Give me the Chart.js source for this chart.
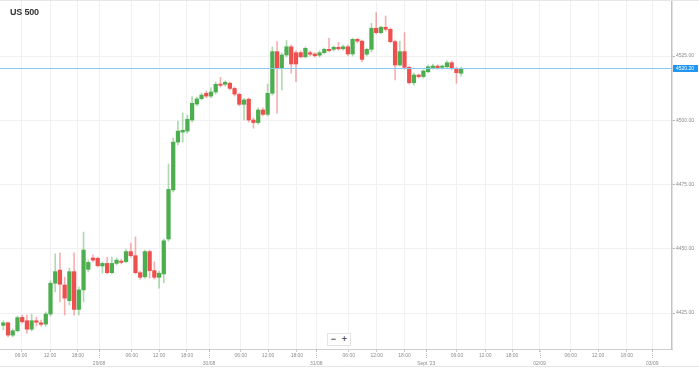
<!DOCTYPE html>
<html><head><meta charset="utf-8">
<script src="https://cdn.jsdelivr.net/npm/chart.js@4/dist/chart.umd.min.js"></script>
<style>
html,body{margin:0;padding:0;background:#fff;}
#wrap{position:relative;width:699px;height:368px;overflow:hidden;}
#title{position:absolute;left:10px;top:7px;font:bold 9px "Liberation Sans",Arial,sans-serif;color:#333;letter-spacing:-0.2px;}
#zoom{position:absolute;left:327px;top:333px;width:22px;height:11px;border:1px solid #e4e4e4;background:#fff;font:bold 9px "Liberation Sans",Arial,sans-serif;color:#555;display:flex;justify-content:space-around;align-items:center;line-height:11px;}
</style></head>
<body><div id="wrap"><canvas id="c" width="699" height="368"></canvas><div id="title">US 500</div><div id="zoom"><span>−</span><span>+</span></div></div>
<script>
const openVals = [4420.2,4421.2,4416.4,4418.1,4423.3,4422.0,4418.7,4422.0,4421.2,4420.7,
4424.6,4436.6,4441.7,4435.9,4429.8,4441.1,4426.4,4434.0,4442.0,4446.4,
4446.3,4443.3,4444.3,4440.7,4444.3,4445.2,4445.0,4448.9,4447.3,4440.7,
4439.1,4448.9,4441.5,4438.9,4440.2,4453.8,4472.9,4491.5,4495.4,4495.8,
4500.1,4506.3,4508.4,4510.5,4509.4,4511.0,4514.1,4514.0,4514.4,4512.4,
4510.1,4506.2,4508.2,4500.1,4499.1,4504.0,4502.3,4510.5,4526.7,4520.2,
4525.4,4528.6,4526.3,4526.3,4524.7,4526.3,4525.8,4525.3,4526.3,4527.6,
4527.6,4528.4,4527.8,4528.6,4525.8,4531.5,4530.8,4525.7,4527.6,4535.8,
4534.1,4536.2,4535.4,4530.6,4521.5,4526.7,4520.6,4514.6,4517.6,4517.0,
4518.9,4520.5,4521.1,4520.6,4520.8,4522.4,4520.2,4518.3];
const highVals = [4422.0,4421.5,4418.8,4423.8,4424.2,4424.2,4424.6,4423.4,4422.3,4425.4,
4437.5,4448.0,4448.4,4439.0,4442.5,4448.4,4435.1,4456.5,4445.6,4447.6,
4446.8,4444.9,4446.8,4446.8,4446.4,4446.0,4449.9,4452.2,4454.6,4441.3,
4449.5,4449.5,4444.9,4441.3,4453.8,4483.0,4493.1,4499.7,4502.8,4502.0,
4509.2,4509.1,4510.6,4511.4,4512.6,4514.9,4516.7,4515.3,4514.9,4512.9,
4510.6,4508.5,4508.7,4500.9,4504.8,4504.8,4514.1,4528.5,4530.6,4526.2,
4531.0,4529.3,4527.0,4527.0,4528.5,4527.0,4526.2,4527.0,4528.1,4531.9,
4528.9,4530.3,4529.3,4529.3,4532.0,4532.0,4531.2,4528.1,4537.7,4541.9,
4536.7,4540.6,4535.9,4531.2,4530.8,4534.1,4521.1,4518.4,4518.0,4519.6,
4521.5,4521.9,4521.6,4521.5,4523.1,4523.1,4520.7,4520.7];
const lowVals = [4418.4,4415.7,4415.7,4417.6,4421.1,4417.2,4418.0,4419.9,4419.9,4419.9,
4423.8,4433.2,4429.3,4424.2,4428.1,4424.2,4424.2,4429.3,4441.0,4444.9,
4442.9,4440.6,4440.2,4440.2,4443.7,4444.1,4444.5,4446.8,4440.2,4438.2,
4438.6,4438.6,4438.2,4434.7,4436.7,4453.0,4472.1,4490.4,4491.5,4495.0,
4499.3,4505.6,4507.9,4508.7,4508.7,4510.2,4512.9,4513.3,4511.8,4509.4,
4505.6,4500.1,4499.3,4496.9,4498.5,4501.7,4501.7,4509.8,4502.8,4511.8,
4524.6,4518.3,4515.0,4524.2,4524.2,4525.0,4524.6,4524.6,4525.8,4526.6,
4527.0,4527.3,4527.3,4525.0,4525.0,4530.1,4522.7,4525.0,4526.6,4533.6,
4533.6,4534.7,4530.1,4515.7,4521.1,4519.9,4514.1,4513.7,4516.4,4516.4,
4518.4,4519.9,4519.9,4519.9,4520.3,4519.6,4514.4,4517.2];
const closeVals = [4421.2,4416.4,4418.1,4423.2,4421.6,4418.7,4422.0,4421.4,4420.6,4424.6,
4436.6,4441.1,4436.2,4430.8,4441.1,4426.4,4434.0,4449.5,4444.7,4445.6,
4443.4,4444.3,4440.7,4444.3,4445.6,4444.7,4448.9,4447.3,4440.7,4438.9,
4448.9,4441.5,4438.9,4440.5,4453.1,4473.1,4491.5,4495.8,4496.1,4500.4,
4506.6,4508.3,4509.8,4509.4,4511.0,4514.0,4513.6,4514.8,4512.4,4510.2,
4506.2,4507.9,4500.1,4499.1,4504.0,4502.3,4510.5,4526.7,4520.2,4525.4,
4528.6,4521.9,4521.9,4524.7,4528.0,4525.7,4525.1,4526.3,4527.6,4527.1,
4528.4,4527.8,4528.6,4525.8,4531.5,4530.8,4523.7,4527.6,4535.8,4534.1,
4536.2,4535.4,4530.6,4521.5,4526.7,4520.6,4514.6,4517.6,4517.0,4519.2,
4520.8,4521.1,4520.5,4521.1,4522.4,4520.2,4518.5,4520.2];
// hourly candle index positions of the time-axis ticks
const tickPositions = [3.75,9.9,15.8,20.3,27.2,33.0,38.9,43.6,50.3,56.1,62.2,66.3,73.2,79.1,85.0,89.6,96.1,102.1,107.8,113.6,120.2,126.0,132.1,137.5];
const tickLabels = ["06:00","12:00","18:00",["","29/08"],"06:00","12:00","18:00",["","30/08"],"06:00","12:00","18:00",["","31/08"],"06:00","12:00","18:00",["","Sept '23"],"06:00","12:00","18:00",["","02/09"],"06:00","12:00","18:00",["","03/09"]];
const yTickValues = [4425,4450,4475,4500,4525];
const currentPrice = closeVals[closeVals.length-1];

const GREEN = '#4cae4f', RED = '#ee5050';
const GREEN_W = 'rgba(76,174,79,0.45)', RED_W = 'rgba(238,80,80,0.45)';
const FONT = "'Liberation Sans', Arial, sans-serif";
Chart.defaults.font.family = FONT;

const up = openVals.map((o,i)=>closeVals[i] >= o);
const bodyData = openVals.map((o,i)=>({x:i, y:[o, closeVals[i]]}));
const wickData = highVals.map((h,i)=>({x:i, y:[lowVals[i], h]}));

const pricePlugin = {
  id:'price',
  afterDatasetsDraw(chart){
    const {ctx, chartArea:a, scales:{y}} = chart;
    const py = Math.round(y.getPixelForValue(currentPrice)) + 0.5;
    ctx.save();
    ctx.strokeStyle = '#86c9f2'; ctx.lineWidth = 1;
    ctx.beginPath(); ctx.moveTo(0, py); ctx.lineTo(a.right, py); ctx.stroke();
    ctx.restore();
  },
  afterDraw(chart){
    const {ctx, chartArea:a, scales:{x,y}} = chart;
    const py = Math.round(y.getPixelForValue(currentPrice)) + 0.5;
    ctx.save();
    ctx.fillStyle = '#2196f3';
    ctx.fillRect(a.right + 1, py - 3.5, 25, 7);
    ctx.fillStyle = '#fff'; ctx.font = '5px ' + FONT; ctx.textBaseline = 'middle'; ctx.textAlign = 'left';
    ctx.fillText(currentPrice.toFixed(2), a.right + 4, py);
    ctx.strokeStyle = '#bdbdbd'; ctx.lineWidth = 1; ctx.setLineDash([1,1]);
    x.ticks.forEach((t,i)=>{
      if (Array.isArray(tickLabels[i])) {
        const px = Math.round(x.getPixelForValue(t.value)) + 0.5;
        ctx.beginPath(); ctx.moveTo(px, a.bottom); ctx.lineTo(px, a.bottom + 10); ctx.stroke();
      }
    });
    ctx.setLineDash([]);
    ctx.strokeStyle = '#e6e6e6';
    ctx.beginPath(); ctx.moveTo(0, 0.5); ctx.lineTo(chart.width, 0.5); ctx.stroke();
    ctx.beginPath(); ctx.moveTo(0, chart.height - 1.5); ctx.lineTo(chart.width, chart.height - 1.5); ctx.stroke();
    ctx.restore();
  }
};

new Chart(document.getElementById('c'), {
  type:'bar',
  data:{datasets:[
    {data:bodyData, backgroundColor:up.map(u=>u?GREEN:RED), barThickness:3.6, grouped:false, minBarLength:1, borderWidth:0, borderSkipped:false},
    {data:wickData, backgroundColor:up.map(u=>u?GREEN_W:RED_W), barThickness:1, grouped:false, borderWidth:0, borderSkipped:false}
  ]},
  options:{
    responsive:false, animation:false, devicePixelRatio:1,
    layout:{padding:0},
    plugins:{legend:{display:false}, tooltip:{enabled:false}, title:{display:false}},
    scales:{
      x:{type:'linear', min:-0.7, max:141.67, offset:false, position:'bottom',
        afterBuildTicks:s=>{ s.ticks = tickPositions.map(v=>({value:v})); },
        afterFit:s=>{ s.height = 19; s.paddingLeft = 0; s.paddingRight = 0; },
        grid:{color:'#f1f1f1', tickColor:'#c8c8c8', tickLength:3, offset:false},
        border:{color:'#cfcfcf', width:1},
        ticks:{autoSkip:false, maxRotation:0, minRotation:0, padding:0, color:'#8c8c8c',
          font:{size:5, lineHeight:1.6}, callback:(v,i)=>tickLabels[i]}
      },
      y:{position:'right', min:4411.0, max:4546.8,
        afterBuildTicks:s=>{ s.ticks = yTickValues.map(v=>({value:v})); },
        afterFit:s=>{ s.width = 27; s.paddingTop = 0; s.paddingBottom = 0; },
        grid:{color:'#f1f1f1', tickColor:'#b8b8b8', tickLength:3},
        border:{color:'#c4c4c4', width:1.5},
        ticks:{padding:1, color:'#8c8c8c', font:{size:5}, callback:v=>Number(v).toFixed(2)}
      }
    }
  },
  plugins:[pricePlugin]
});
</script>
</body></html>
